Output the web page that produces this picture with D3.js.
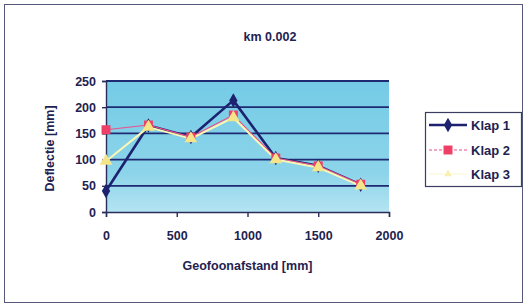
<!DOCTYPE html>
<html lang="en">
<head>
  <meta charset="UTF-8">
  <title>km 0.002</title>
  <script src="https://d3js.org/d3.v7.min.js"></script>
</head>
<body>
</body>
<style>
  body { margin: 0; padding: 0; background: #fff; }
  text { font-family: Arial, "Liberation Sans", sans-serif; font-weight: bold; fill: #1f2250; }
</style>
<script>
  const width = 527
  const height = 304

  const title = 'km 0.002'
  const xTicks = [0, 500, 1000, 1500, 2000]
  const yTicks = [0, 50, 100, 150, 200, 250]
  const afstand = [0, 300, 600, 900, 1200, 1500, 1800]
  const klap1 = [40, 165, 143, 213, 103, 88, 52]
  const klap2 = [157, 166, 143, 185, 103, 88, 53]
  const klap3 = [97, 162, 140, 180, 100, 85, 50]
  const seriesNames = ['Klap 1', 'Klap 2', 'Klap 3']

  const plot = { left: 106, right: 389, top: 81, bottom: 212 }

  const x = d3.scaleLinear().domain([0, 2000]).range([plot.left, plot.right])
  const y = d3.scaleLinear().domain([0, 250]).range([plot.bottom, plot.top])

  const svg = d3.select('body').append('svg')
    .attr('width', width)
    .attr('height', height)

  // outer frame
  svg.append('rect')
    .attr('x', 4.5).attr('y', 4.5)
    .attr('width', 518).attr('height', 298)
    .attr('fill', '#fff')
    .attr('stroke', '#55587a')
    .attr('stroke-width', 1)

  const defs = svg.append('defs')
  const grad = defs.append('linearGradient')
    .attr('id', 'bg').attr('x1', 0).attr('y1', 0).attr('x2', 0).attr('y2', 1)
  grad.append('stop').attr('offset', '0%').attr('stop-color', '#74cbe6')
  grad.append('stop').attr('offset', '70%').attr('stop-color', '#8cd4ea')
  grad.append('stop').attr('offset', '100%').attr('stop-color', '#b4e4f2')

  svg.append('rect')
    .attr('x', plot.left).attr('y', plot.top)
    .attr('width', plot.right - plot.left).attr('height', plot.bottom - plot.top)
    .attr('fill', 'url(#bg)')

  // gridlines
  svg.append('g')
    .selectAll('line')
    .data(yTicks.filter(d => d > 0))
    .join('line')
    .attr('x1', plot.left).attr('x2', plot.right)
    .attr('y1', d => y(d)).attr('y2', d => y(d))
    .attr('stroke', '#1e2a72')
    .attr('stroke-width', 1.8)

  // axes
  const xAxis = svg.append('g')
    .attr('transform', `translate(0,${plot.bottom})`)
    .call(d3.axisBottom(x).tickValues(xTicks).tickFormat(d3.format('d')).tickSize(5).tickPadding(14))
  const yAxis = svg.append('g')
    .attr('transform', `translate(${plot.left},0)`)
    .call(d3.axisLeft(y).tickValues(yTicks).tickFormat(d3.format('d')).tickSize(4).tickPadding(6))
  for (const ax of [xAxis, yAxis]) {
    ax.select('.domain').attr('stroke', '#2a2d5a').attr('stroke-width', 1.4)
    ax.selectAll('.tick line').attr('stroke', '#2a2d5a').attr('stroke-width', 1.4)
    ax.selectAll('.tick text').style('font-size', '12.5px').attr('fill', '#1f2250')
  }

  // series
  const pts = arr => arr.map((v, i) => [afstand[i], v])
  const line = d3.line().x(d => x(d[0])).y(d => y(d[1]))

  const series = [
    { name: seriesNames[0], data: pts(klap1), stroke: '#1c2270', width: 2.6, fill: '#1c2270', sym: d3.symbolDiamond, size: 60 },
    { name: seriesNames[1], data: pts(klap2), stroke: '#ec4f8c', width: 1.2, fill: '#ee3f66', sym: d3.symbolSquare, size: 80 },
    { name: seriesNames[2], data: pts(klap3), stroke: '#fbf6b4', width: 2, fill: '#f4e58a', sym: d3.symbolTriangle, size: 70 }
  ]

  const g = svg.append('g')
  series.forEach(s => {
    g.append('path')
      .datum(s.data)
      .attr('fill', 'none')
      .attr('stroke', s.stroke)
      .attr('stroke-width', s.width)
      .attr('stroke-linejoin', 'round')
      .attr('d', line)
  })
  series.forEach(s => {
    g.append('g')
      .selectAll('path')
      .data(s.data)
      .join('path')
      .attr('transform', d => `translate(${x(d[0])},${y(d[1])})`)
      .attr('d', d3.symbol().type(s.sym).size(s.size))
      .attr('fill', s.fill)
  })

  // titles
  svg.append('text')
    .attr('x', 270).attr('y', 41)
    .attr('text-anchor', 'middle')
    .style('font-size', '12.5px')
    .text(title)

  svg.append('text')
    .attr('x', (plot.left + plot.right) / 2).attr('y', 270)
    .attr('text-anchor', 'middle')
    .style('font-size', '12.5px')
    .text('Geofoonafstand [mm]')

  svg.append('text')
    .attr('transform', `translate(54,${(plot.top + plot.bottom) / 2 + 2}) rotate(-90)`)
    .attr('text-anchor', 'middle')
    .style('font-size', '12.5px')
    .text('Deflectie [mm]')

  // legend
  const legend = svg.append('g')
  legend.append('rect')
    .attr('x', 425.5).attr('y', 112.5)
    .attr('width', 96).attr('height', 74)
    .attr('fill', '#fff')
    .attr('stroke', '#3a3d60')
    .attr('stroke-width', 1.2)
  const ly = [125, 150, 174]
  series.forEach((s, i) => {
    const row = legend.append('g').attr('transform', `translate(0,${ly[i]})`)
    row.append('line')
      .attr('x1', 429).attr('x2', 467)
      .attr('stroke', i === 2 ? '#fdfbe6' : s.stroke)
      .attr('stroke-width', s.width)
      .attr('stroke-dasharray', i === 1 ? '3,2' : null)
    row.append('path')
      .attr('transform', 'translate(448,0)')
      .attr('d', d3.symbol().type(s.sym).size(i === 2 ? 25 : s.size))
      .attr('fill', i === 2 ? '#f8f0b0' : s.fill)
    row.append('text')
      .attr('x', 471).attr('y', 4.5)
      .style('font-size', '13px')
      .text(s.name)
  })
</script>
</html>
